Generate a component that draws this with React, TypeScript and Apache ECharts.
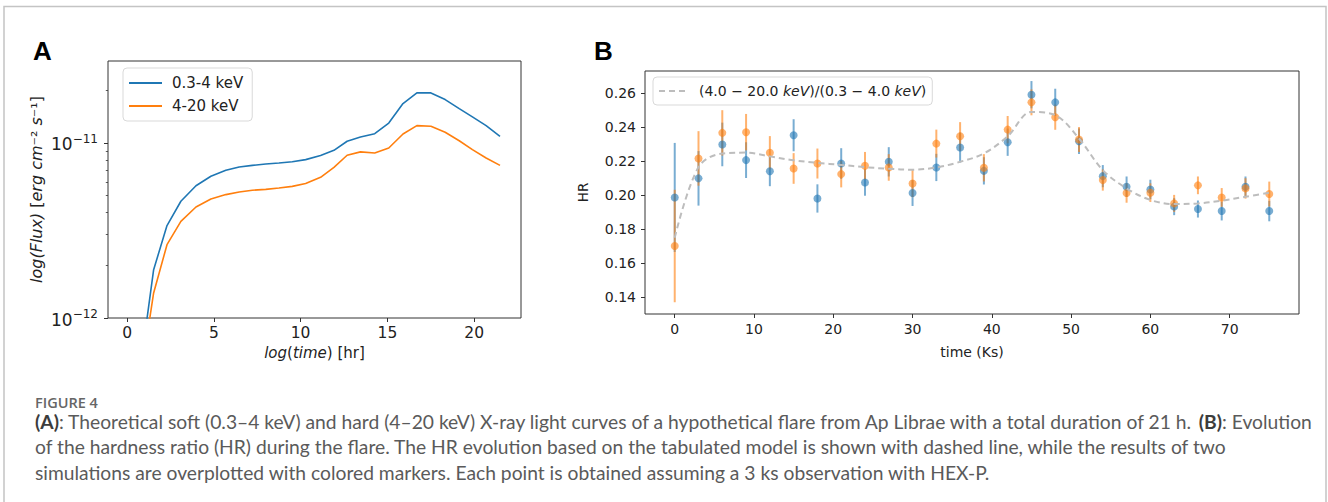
import React, { useEffect, useRef } from "react";
import * as echarts from "echarts";

// ---------- Panel A: theoretical light curves ----------
const timeHr = [0.77, 1.53, 2.3, 3.1, 3.97, 4.83, 5.69, 6.46, 7.22, 7.99, 8.75, 9.52, 10.29, 11.15, 11.92, 12.68, 13.45, 14.27, 15.08, 15.9, 16.7, 17.51, 18.33, 19.14, 19.9, 20.69, 21.49];
const softFlux = [0.525e-12, 1.888e-12, 3.373e-12, 4.645e-12, 5.7e-12, 6.457e-12, 6.982e-12, 7.295e-12, 7.447e-12, 7.586e-12, 7.691e-12, 7.816e-12, 8.035e-12, 8.472e-12, 9.078e-12, 10.23e-12, 10.81e-12, 11.3e-12, 13.0e-12, 16.79e-12, 19.32e-12, 19.32e-12, 17.7e-12, 15.7e-12, 14.09e-12, 12.56e-12, 10.91e-12];
const hardFlux = [0.447e-12, 1.39e-12, 2.624e-12, 3.565e-12, 4.305e-12, 4.786e-12, 5.07e-12, 5.248e-12, 5.37e-12, 5.433e-12, 5.534e-12, 5.649e-12, 5.861e-12, 6.368e-12, 7.261e-12, 8.511e-12, 8.892e-12, 8.77e-12, 9.354e-12, 11.246e-12, 12.56e-12, 12.45e-12, 11.51e-12, 10.3e-12, 9.162e-12, 8.204e-12, 7.447e-12];
const seriesNamesA = ["0.3-4 keV", "4-20 keV"];
const xTicksA = [0, 5, 10, 15, 20];
const fluxMajorTicks = [1e-12, 1e-11];
const fluxMinorTicks = [2e-12, 3e-12, 4e-12, 5e-12, 6e-12, 7e-12, 8e-12, 9e-12, 2e-11];
const fluxAxisMin = 1e-12;
const fluxAxisMax = 2.94e-11;
const timeAxisMinA = -1.1;
const timeAxisMaxA = 22.7;

// ---------- Panel B: hardness ratio ----------
const timeKs = [0, 3, 6, 9, 12, 15, 18, 21, 24, 27, 30, 33, 36, 39, 42, 45, 48, 51, 54, 57, 60, 63, 66, 69, 72, 75];
const hrModel = [0.175, 0.2165, 0.2245, 0.225, 0.2228, 0.2205, 0.219, 0.2178, 0.2165, 0.2155, 0.215, 0.2163, 0.2196, 0.2245, 0.2346, 0.2489, 0.247, 0.2333, 0.2147, 0.204, 0.1972, 0.1948, 0.1952, 0.1968, 0.1991, 0.2015];
const hrSim1 = [0.1987, 0.2099, 0.2298, 0.2206, 0.2141, 0.2352, 0.1981, 0.2186, 0.2075, 0.2196, 0.2013, 0.2163, 0.228, 0.2143, 0.2311, 0.259, 0.2545, 0.2317, 0.2112, 0.205, 0.2034, 0.1933, 0.1919, 0.1907, 0.205, 0.1907];
const errSim1 = [0.032, 0.016, 0.0128, 0.0105, 0.0088, 0.0094, 0.0083, 0.009, 0.0078, 0.0086, 0.0076, 0.008, 0.0088, 0.008, 0.008, 0.008, 0.008, 0.0075, 0.0065, 0.006, 0.0057, 0.005, 0.005, 0.0055, 0.006, 0.006];
const hrSim2 = [0.1702, 0.2216, 0.2366, 0.237, 0.2249, 0.2157, 0.2186, 0.2124, 0.2173, 0.2163, 0.2069, 0.2303, 0.2346, 0.2161, 0.2385, 0.2545, 0.2458, 0.2327, 0.2089, 0.2013, 0.2015, 0.1952, 0.2058, 0.1987, 0.204, 0.2007];
const errSim2 = [0.033, 0.016, 0.0133, 0.0107, 0.0098, 0.009, 0.0088, 0.0078, 0.0081, 0.0078, 0.008, 0.0082, 0.0083, 0.008, 0.008, 0.0076, 0.0074, 0.0073, 0.0062, 0.0057, 0.0055, 0.005, 0.0052, 0.0055, 0.006, 0.0073];
const modelName = "(4.0 − 20.0 keV)/(0.3 − 4.0 keV)";
const hrTicks = [0.14, 0.16, 0.18, 0.2, 0.22, 0.24, 0.26];
const xTicksB = [0, 10, 20, 30, 40, 50, 60, 70];
const hrAxisMin = 0.1303;
const hrAxisMax = 0.2729;
const timeAxisMinB = -3.75;
const timeAxisMaxB = 78.75;

// ---------- Caption ----------
const captionTitle = "FIGURE 4";
const captionLines = [
  "{b|(A)}: Theoretical soft (0.3–4 keV) and hard (4–20 keV) X-ray light curves of a hypothetical flare from Ap Librae with a total duration of 21 h. {b|(B)}: Evolution",
  "of the hardness ratio (HR) during the flare. The HR evolution based on the tabulated model is shown with dashed line, while the results of two",
  "simulations are overplotted with colored markers. Each point is obtained assuming a 3 ks observation with HEX-P.",
];

const FONT = "DejaVu Sans";
const CAP_FONT = "Lato";
const BLUE = "#1f77b4";
const ORANGE = "#ff7f0e";
const MODEL_GRAY = "#bdbdbd";
const AXIS = "#333";
const TXT = "#222";

const lg = (v: number) => Math.log10(v);

function captionFontSize(): number {
  try {
    const ctx = document.createElement("canvas").getContext("2d");
    if (!ctx) return 16.5;
    ctx.font = `100px ${CAP_FONT}`;
    const plain = captionLines[0].replace(/\{b\|([^}]*)\}/g, "$1");
    const w = ctx.measureText(plain).width;
    return Math.max(12, Math.min(20, (100 * 1276) / w));
  } catch (e) {
    return 16.5;
  }
}

function errorBars(color: string, hr: number[], err: number[]) {
  return {
    type: "custom",
    xAxisIndex: 1,
    yAxisIndex: 2,
    silent: true,
    data: timeKs.map((t, i) => [t, hr[i], err[i]]),
    encode: { x: 0, y: 1 },
    renderItem: (_p: any, api: any) => {
      const x = api.value(0);
      const y = api.value(1);
      const e = api.value(2);
      const a = api.coord([x, y - e]);
      const b = api.coord([x, y + e]);
      return {
        type: "line",
        shape: { x1: a[0], y1: a[1], x2: b[0], y2: b[1] },
        style: { stroke: color, lineWidth: 2, opacity: 0.6 },
      };
    },
  };
}

function buildOption() {
  const capSize = captionFontSize();
  const tickCommon = { show: true, inside: false, length: 4, lineStyle: { color: AXIS, width: 1 } };
  const noLine = { show: false, onZero: false };
  const italic = (size: number) => ({ fontStyle: "italic", fontSize: size, fontFamily: FONT, color: TXT });
  return {
    animation: false,
    textStyle: { fontFamily: FONT },
    grid: [
      { left: 108, top: 61, width: 413, height: 257, show: true, borderColor: AXIS, borderWidth: 1, backgroundColor: "#fff" },
      { left: 645, top: 71, width: 654, height: 243, show: true, borderColor: AXIS, borderWidth: 1, backgroundColor: "#fff" },
    ],
    xAxis: [
      {
        type: "value",
        gridIndex: 0,
        min: timeAxisMinA,
        max: timeAxisMaxA,
        axisLine: noLine,
        splitLine: { show: false },
        axisTick: { ...tickCommon, customValues: xTicksA },
        axisLabel: { customValues: xTicksA, fontSize: 15.5, color: TXT, margin: 7, fontFamily: FONT },
        name: "{i|log}({i|time}) [hr]",
        nameLocation: "middle",
        nameGap: 27,
        nameTextStyle: { fontSize: 15, color: TXT, fontFamily: FONT, rich: { i: italic(15) } },
      },
      {
        type: "value",
        gridIndex: 1,
        min: timeAxisMinB,
        max: timeAxisMaxB,
        axisLine: noLine,
        splitLine: { show: false },
        axisTick: { ...tickCommon, customValues: xTicksB },
        axisLabel: { customValues: xTicksB, fontSize: 14, color: TXT, margin: 8, fontFamily: FONT },
        name: "time (Ks)",
        nameLocation: "middle",
        nameGap: 31,
        nameTextStyle: { fontSize: 14, color: TXT, fontFamily: FONT },
      },
    ],
    yAxis: [
      {
        type: "value",
        gridIndex: 0,
        position: "left",
        min: lg(fluxAxisMin),
        max: lg(fluxAxisMax),
        axisLine: noLine,
        splitLine: { show: false },
        axisTick: { ...tickCommon, customValues: fluxMajorTicks.map(lg) },
        axisLabel: {
          customValues: fluxMajorTicks.map(lg),
          color: TXT,
          margin: 10,
          fontFamily: FONT,
          formatter: (v: number) => "{b|10}{s|−" + String(Math.abs(Math.round(v))) + "}",
          rich: {
            b: { fontSize: 17, fontFamily: FONT, color: TXT, verticalAlign: "bottom", lineHeight: 20 },
            s: { fontSize: 12, fontFamily: FONT, color: TXT, verticalAlign: "top", lineHeight: 20 },
          },
        },
        name: "{i|log(Flux)} [{i|erg cm}⁻² {i|s}⁻¹]",
        nameLocation: "middle",
        nameRotate: 90,
        nameGap: 64,
        nameTextStyle: { fontSize: 16, color: TXT, fontFamily: FONT, rich: { i: italic(16) } },
      },
      {
        type: "value",
        gridIndex: 0,
        position: "left",
        offset: 0,
        min: lg(fluxAxisMin),
        max: lg(fluxAxisMax),
        axisLine: noLine,
        splitLine: { show: false },
        axisTick: { show: true, inside: false, length: 2.2, lineStyle: { color: AXIS, width: 0.8 }, customValues: fluxMinorTicks.map(lg) },
        axisLabel: { show: false },
      },
      {
        type: "value",
        gridIndex: 1,
        position: "left",
        min: hrAxisMin,
        max: hrAxisMax,
        axisLine: noLine,
        splitLine: { show: false },
        axisTick: { ...tickCommon, customValues: hrTicks },
        axisLabel: { customValues: hrTicks, fontSize: 14, color: TXT, margin: 9, fontFamily: FONT, formatter: (v: number) => v.toFixed(2) },
        name: "HR",
        nameLocation: "middle",
        nameRotate: 90,
        nameGap: 55,
        nameTextStyle: { fontSize: 13.5, color: TXT, fontFamily: FONT },
      },
    ],
    legend: [
      {
        data: seriesNamesA,
        orient: "vertical",
        left: 123,
        top: 68,
        icon: "rect",
        itemWidth: 33,
        itemHeight: 1.8,
        itemGap: 5,
        padding: [6, 9, 6, 6],
        backgroundColor: "#fff",
        borderColor: "#d9d9d9",
        borderWidth: 1,
        borderRadius: 4,
        selectedMode: false,
        textStyle: { fontSize: 15, color: TXT, fontFamily: FONT, padding: [0, 0, 0, 5], lineHeight: 18 },
      },
      {
        data: [modelName],
        orient: "vertical",
        left: 653,
        top: 77,
        icon: "path://M0,0h6v2h-6z M10,0h6v2h-6z M20,0h6v2h-6z",
        itemWidth: 28,
        itemHeight: 2,
        padding: [6, 6, 6, 6],
        backgroundColor: "#fff",
        borderColor: "#d9d9d9",
        borderWidth: 1,
        borderRadius: 4,
        selectedMode: false,
        formatter: () => "(4.0 − 20.0 {i|keV})/(0.3 − 4.0 {i|keV})",
        textStyle: { fontSize: 14, color: TXT, fontFamily: FONT, padding: [0, 0, 0, 8], lineHeight: 16, rich: { i: italic(14) } },
      },
    ],
    series: [
      {
        type: "line",
        name: seriesNamesA[0],
        xAxisIndex: 0,
        yAxisIndex: 0,
        data: timeHr.map((t, i) => [t, lg(softFlux[i])]),
        symbol: "none",
        clip: true,
        lineStyle: { color: BLUE, width: 1.6 },
        itemStyle: { color: BLUE },
      },
      {
        type: "line",
        name: seriesNamesA[1],
        xAxisIndex: 0,
        yAxisIndex: 0,
        data: timeHr.map((t, i) => [t, lg(hardFlux[i])]),
        symbol: "none",
        clip: true,
        lineStyle: { color: ORANGE, width: 1.6 },
        itemStyle: { color: ORANGE },
      },
      {
        type: "line",
        name: modelName,
        xAxisIndex: 1,
        yAxisIndex: 2,
        data: timeKs.map((t, i) => [t, hrModel[i]]),
        symbol: "none",
        smooth: 0.35,
        lineStyle: { color: MODEL_GRAY, width: 2, type: [6, 4] },
        itemStyle: { color: MODEL_GRAY },
      },
      errorBars(BLUE, hrSim1, errSim1),
      {
        type: "scatter",
        name: "sim1",
        xAxisIndex: 1,
        yAxisIndex: 2,
        data: timeKs.map((t, i) => [t, hrSim1[i]]),
        symbolSize: 8,
        itemStyle: { color: BLUE, opacity: 0.6 },
      },
      errorBars(ORANGE, hrSim2, errSim2),
      {
        type: "scatter",
        name: "sim2",
        xAxisIndex: 1,
        yAxisIndex: 2,
        data: timeKs.map((t, i) => [t, hrSim2[i]]),
        symbolSize: 8,
        itemStyle: { color: ORANGE, opacity: 0.6 },
      },
    ],
    graphic: [
      {
        type: "rect",
        silent: true,
        z: -10,
        shape: { x: 4, y: 6.5, width: 1322, height: 540 },
        style: { fill: "none", stroke: "#c4c4c4", lineWidth: 1.5 },
      },
      {
        type: "text",
        x: 33,
        y: 51,
        style: { text: "A", fontSize: 26, fontWeight: "bold", fontFamily: "Liberation Sans", fill: "#000", verticalAlign: "middle", textVerticalAlign: "middle" },
      },
      {
        type: "text",
        x: 594,
        y: 51,
        style: { text: "B", fontSize: 26, fontWeight: "bold", fontFamily: "Liberation Sans", fill: "#000", verticalAlign: "middle", textVerticalAlign: "middle" },
      },
      {
        type: "text",
        x: 35,
        y: 402,
        style: { text: captionTitle, fontSize: 14.5, fontWeight: 600, fontFamily: "Open Sans", fill: "#666", verticalAlign: "middle", textVerticalAlign: "middle" },
      },
      ...captionLines.map((line, i) => ({
        type: "text",
        x: 35,
        y: 421 + i * 25.5,
        style: {
          text: line,
          fontSize: capSize,
          fontFamily: CAP_FONT,
          fill: "#5a5a5a",
          verticalAlign: "middle",
          textVerticalAlign: "middle",
          rich: { b: { fontSize: capSize, fontFamily: CAP_FONT, fontWeight: "bold", fill: "#3c3c3c", color: "#3c3c3c" } },
        },
      })),
    ],
  };
}

export default function App() {
  const ref = useRef<HTMLDivElement>(null);
  useEffect(() => {
    document.body.style.margin = "0";
    if (!ref.current) return;
    const chart = echarts.init(ref.current, undefined, { renderer: "svg" });
    chart.setOption(buildOption() as any);
    return () => chart.dispose();
  }, []);
  return <div ref={ref} style={{ width: 1328, height: 502, background: "#fff" }} />;
}
